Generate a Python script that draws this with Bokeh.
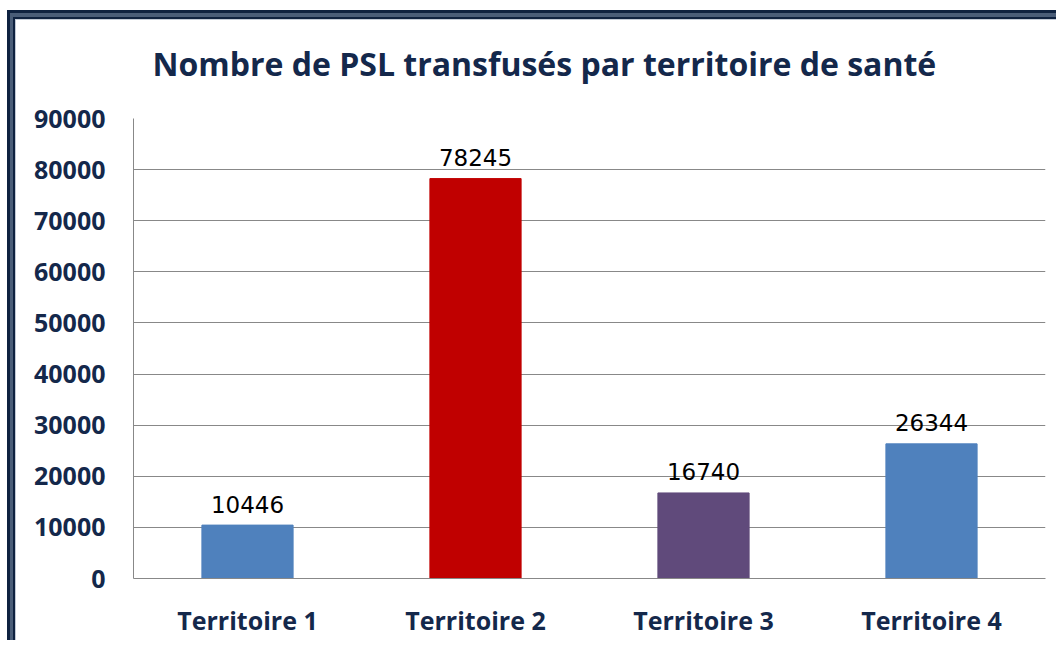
from bokeh.plotting import figure
from bokeh.models import ColumnDataSource, FixedTicker, NumeralTickFormatter
from bokeh.core.properties import value
from bokeh.embed import file_html
from bokeh.resources import INLINE

categories = ["Territoire 1", "Territoire 2", "Territoire 3", "Territoire 4"]
counts = [10446, 78245, 16740, 26344]
colors = ["#4F81BD", "#C00000", "#604A7B", "#4F81BD"]
y_ticks = [0, 10000, 20000, 30000, 40000, 50000, 60000, 70000, 80000, 90000]
title_text = "Nombre de PSL transfusés par territoire de santé"

src = ColumnDataSource(dict(cat=categories, val=counts, col=colors,
                            lab=[str(v) for v in counts]))

navy = "#14284B"
W, H = 1056, 640
p = figure(x_range=categories, y_range=(0, 90000), width=W, height=H,
           output_backend="svg", toolbar_location=None, title=title_text,
           min_border_left=133, min_border_right=11, min_border_top=118,
           min_border_bottom=62)

# frame border of the chart object (left and top edges), as inset shadows
# painted behind a transparent border area
p.border_fill_alpha = 0
p.background_fill_color = "white"
p.styles = {
    "background-color": "white",
    "box-shadow": ("inset 7px 10px 0 0 #FFFFFF, inset 10px 13px 0 0 #0F2240, "
                   "inset 13px 17px 0 0 #4A5D78, inset 15px 19px 0 0 #0F2240, "
                   "inset 16px 20px 0 0 #C3CAD6"),
}

p.vbar(x="cat", top="val", width=0.4, color="col", source=src)
p.text(x="cat", y="val", text="lab", source=src, text_align="center",
       text_baseline="middle", y_offset=-21, text_color="black",
       text_font=value("DejaVu Sans"), text_font_size="23px")

p.title.align = "left"
p.title.offset = 19
p.title.text_font = "Open Sans"
p.title.text_font_size = "32px"
p.title.text_font_style = "bold"
p.title.text_color = navy
p.title.standoff = 68

p.outline_line_color = None
p.xgrid.grid_line_color = None
p.ygrid.grid_line_color = "#888888"
p.ygrid.grid_line_width = 1
p.x_range.range_padding = 0

p.yaxis.ticker = FixedTicker(ticks=y_ticks)
p.yaxis.formatter = NumeralTickFormatter(format="0")
p.yaxis.minor_tick_line_color = None
p.yaxis.major_tick_line_color = None
p.yaxis.axis_line_color = "#888888"
p.yaxis.major_label_standoff = 22
p.yaxis.major_label_text_font = "Open Sans"
p.yaxis.major_label_text_font_size = "25px"
p.yaxis.major_label_text_font_style = "bold"
p.yaxis.major_label_text_color = navy

p.xaxis.major_tick_line_color = None
p.xaxis.axis_line_color = "#888888"
p.xaxis.major_label_standoff = 18
p.xaxis.major_label_text_font = "Open Sans"
p.xaxis.major_label_text_font_size = "25px"
p.xaxis.major_label_text_font_style = "bold"
p.xaxis.major_label_text_color = navy

open("out.html", "w").write(file_html(p, INLINE))
